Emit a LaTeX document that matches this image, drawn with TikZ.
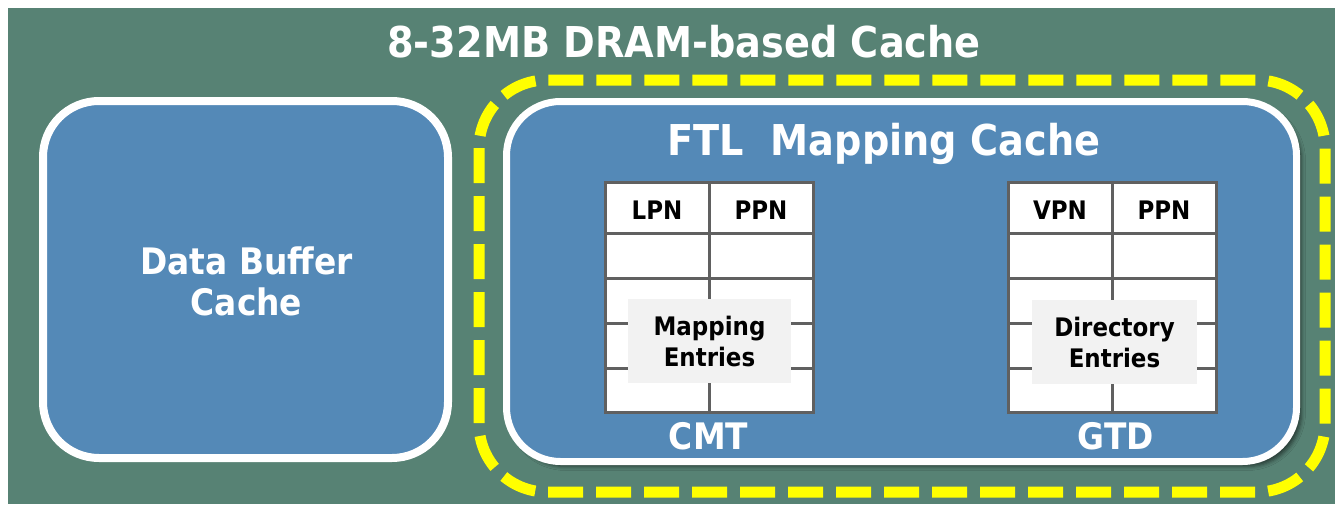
\documentclass[tikz,border=0pt]{standalone}
\usepackage{fontspec}
\setmainfont{DejaVu Sans}[FakeStretch=0.9]
\usetikzlibrary{shadows.blur}
\definecolor{bggreen}{HTML}{578274}
\definecolor{boxblue}{HTML}{5489B7}
\definecolor{gridgray}{HTML}{606060}
\definecolor{labelgray}{HTML}{F2F2F2}
\definecolor{dashyellow}{HTML}{FFFF00}
\begin{document}
\begin{tikzpicture}[x=1pt,y=-1pt,
  bigtext/.style={text=white,font=\fontsize{42.5}{50}\selectfont\bfseries,inner sep=0pt},
  midtext/.style={text=white,font=\fontsize{36.5}{44}\selectfont\bfseries,inner sep=0pt},
  cellhead/.style={text=black,font=\fontsize{25.5}{31}\selectfont\bfseries,inner sep=0pt},
  cachebox/.style={draw=white,line width=8pt,fill=boxblue,rounded corners=56pt,inner sep=0pt},
  tablebox/.style={draw=gridgray,line width=3pt,fill=white,inner sep=0pt},
  gridline/.style={draw=gridgray,line width=3pt},
  entrylabel/.style={fill=labelgray,inner sep=0pt,align=center,text=black,
    font=\fontsize{25.5}{31}\selectfont\bfseries},
  yellowdash/.style={draw=dashyellow,line width=11pt,dash pattern=on 35pt off 13pt,rounded corners=68pt}
]
\useasboundingbox (0,0) rectangle (1335,506);
\fill[white] (0,0) rectangle (1335,506);
\fill[bggreen] (8,8) rectangle (1335,504);

\node[bigtext,anchor=base] (title) at (684,57) {8-32MB DRAM-based Cache};

% Data buffer cache
\node[cachebox,minimum width=405pt,minimum height=357pt] (buf) at (245.5,279.5) {};
\node[midtext,anchor=base] (buf1) at (246.5,274) {Data Buffer};
\node[midtext,anchor=base] (buf2) at (246.5,315) {Cache};

% dashed highlight
\draw[yellowdash] (479,80) rectangle (1325,492);

% FTL mapping cache
\node[cachebox,line width=7pt,rounded corners=54pt,minimum width=790pt,minimum height=360pt,
  blur shadow={shadow xshift=5pt,shadow yshift=-5pt,shadow blur radius=4pt,shadow opacity=55}]
  (ftl) at (901.5,281.5) {};
\node[bigtext,anchor=base] (ftltitle) at (884,155) {FTL~~Mapping Cache};

% CMT table
\node[tablebox,minimum width=208pt,minimum height=230pt] (cmt) at (709,297) {};
\draw[gridline] (709,182) -- (709,412);
\foreach \yy in {233,278,323,368} \draw[gridline] (605,\yy) -- (813,\yy);
\node[cellhead,anchor=base] (lpn) at (657,219) {LPN};
\node[cellhead,anchor=base] (ppn1) at (761,219) {PPN};
\node[entrylabel,minimum width=163pt,minimum height=84pt] (me) at (709.5,341) {Mapping\\Entries};
\node[midtext,anchor=base] (cmtlabel) at (708.5,449) {CMT};

% GTD table
\node[tablebox,minimum width=208pt,minimum height=230pt] (gtd) at (1112,297) {};
\draw[gridline] (1112,182) -- (1112,412);
\foreach \yy in {233,278,323,368} \draw[gridline] (1008,\yy) -- (1216,\yy);
\node[cellhead,anchor=base] (vpn) at (1060,219) {VPN};
\node[cellhead,anchor=base] (ppn2) at (1164,219) {PPN};
\node[entrylabel,minimum width=165pt,minimum height=84pt] (de) at (1114.5,342) {Directory\\Entries};
\node[midtext,anchor=base] (gtdlabel) at (1116,449) {GTD};
\end{tikzpicture}
\end{document}
